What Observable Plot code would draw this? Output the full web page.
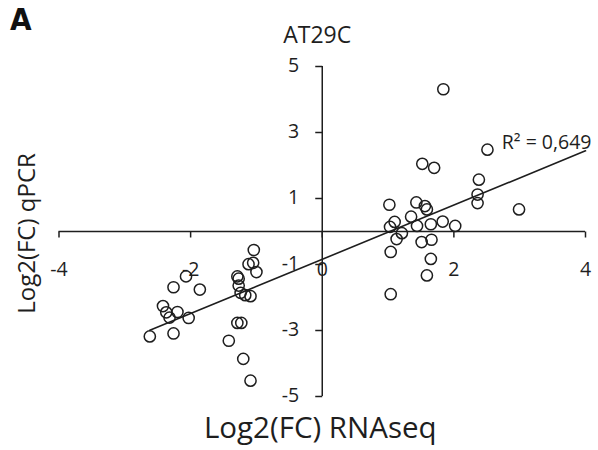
<!DOCTYPE html>
<html>
<head>
<meta charset="utf-8">
<script src="https://cdn.jsdelivr.net/npm/d3@7"></script>
<script src="https://cdn.jsdelivr.net/npm/@observablehq/plot@0.6"></script>
<style>
  html, body { margin: 0; padding: 0; background: #fff; }
</style>
</head>
<body>
<div id="chart"></div>
<script>
// ---- Data ----
const rnaseq = [
  -2.62, -2.26, -2.42, -2.37, -2.20, -2.32, -2.03, -2.26, -2.07, -1.86,
  -1.04, -1.12, -1.05, -1.00, -1.29, -1.27, -1.27, -1.24, -1.17, -1.09, -1.29, -1.23, -1.42, -1.20, -1.09,
  1.84, 2.51, 1.52, 1.70, 2.38, 2.36, 2.36, 2.99, 1.02, 1.43, 1.56, 1.59, 1.35, 1.10,
  1.03, 1.21, 1.13, 1.44, 1.65, 1.83, 2.02, 1.51, 1.66, 1.04, 1.65, 1.59, 1.04
];
const qpcr = [
  -3.18, -3.09, -2.26, -2.45, -2.44, -2.61, -2.62, -1.69, -1.36, -1.76,
  -0.56, -0.99, -0.95, -1.23, -1.36, -1.43, -1.64, -1.86, -1.93, -1.96, -2.77, -2.77, -3.31, -3.86, -4.52,
  4.31, 2.48, 2.05, 1.93, 1.57, 1.12, 0.86, 0.67, 0.81, 0.88, 0.77, 0.67, 0.45, 0.29,
  0.14, -0.05, -0.23, 0.17, 0.22, 0.30, 0.17, -0.32, -0.25, -0.62, -0.83, -1.33, -1.90
];
const xTicks = [-4, -2, 0, 2, 4];
const xTickLabels = ["-4", "-2", "0", "2", "4"];
const yTicks = [5, 3, 1, -1, -3, -5];
const yTickLabels = ["5", "3", "1", "-1", "-3", "-5"];
const trendEndX = 4;
const panelLabel = "A";
const titleText = "AT29C";
const xLabel = "Log2(FC) RNAseq";
const yLabel = "Log2(FC) qPCR";
const r2Label = "R\u00B2 = 0,649";

// ---- Derived ----
const points = rnaseq.map((x, i) => ({x, y: qpcr[i]}));
const mx = d3.mean(rnaseq), my = d3.mean(qpcr);
const slope = d3.sum(points, p => (p.x - mx) * (p.y - my)) / d3.sum(points, p => (p.x - mx) ** 2);
const intercept = my - slope * mx;
const trend = [d3.min(rnaseq), trendEndX].map(x => ({x, y: intercept + slope * x}));

const ink = "#1e1e1e";
const tickDown = {draw(ctx) { ctx.moveTo(0, 0); ctx.lineTo(0, 6); }};
const tickLeft = {draw(ctx) { ctx.moveTo(0, 0); ctx.lineTo(-7, 0); }};

const chart = Plot.plot({
  width: 598,
  height: 450,
  marginLeft: 58.5,
  marginRight: 13,
  marginTop: 66,
  marginBottom: 54,
  x: {domain: [-4, 4], axis: null},
  y: {domain: [-5, 5], axis: null},
  style: {fontFamily: "'Open Sans', sans-serif", color: ink, background: "#fff", overflow: "visible"},
  marks: [
    Plot.ruleY([0], {x1: -4, x2: 4, stroke: ink, strokeWidth: 1.5}),
    Plot.ruleX([0], {y1: -5, y2: 5, stroke: ink, strokeWidth: 1.5}),
    Plot.dot(xTicks, {x: d => d, y: 0, symbol: tickDown, stroke: ink, fill: "none", strokeWidth: 1.5}),
    Plot.dot(yTicks, {x: 0, y: d => d, symbol: tickLeft, stroke: ink, fill: "none", strokeWidth: 1.5}),
    Plot.text(xTicks, {x: d => d, y: 0, text: (d, i) => xTickLabels[i], dy: 38, fontSize: 19.5, fill: ink}),
    Plot.text(yTicks, {x: 0, y: d => d, text: (d, i) => yTickLabels[i], textAnchor: "end", dx: -23, dy: -1, fontSize: 19.5, fill: ink}),
    Plot.line(trend, {x: "x", y: "y", stroke: ink, strokeWidth: 1.6}),
    Plot.dot(points, {x: "x", y: "y", r: 5.6, stroke: ink, strokeWidth: 1.5, fill: "none"}),
    Plot.text([r2Label], {frameAnchor: "top-right", textAnchor: "end", lineAnchor: "middle", dx: 6, dy: 76, fontSize: 19.5, fill: ink}),
    Plot.text([xLabel], {frameAnchor: "bottom", textAnchor: "middle", lineAnchor: "middle", dx: -2, dy: 32.5, fontSize: 29.5, fill: ink}),
    Plot.text([yLabel], {frameAnchor: "left", textAnchor: "middle", lineAnchor: "middle", rotate: -90, dx: -31.5, dy: 2, fontSize: 24, fill: ink}),
    Plot.text([titleText], {frameAnchor: "top", textAnchor: "middle", lineAnchor: "middle", dx: -5, dy: -31, fontSize: 23, fill: ink}),
    Plot.text([panelLabel], {frameAnchor: "top-left", textAnchor: "start", lineAnchor: "middle", dx: -49, dy: -46, fontSize: 31, fontWeight: "bold",
      fontFamily: "'Liberation Sans Narrow', 'DejaVu Sans Condensed', 'Open Sans', sans-serif", fill: "#111"})
  ]
});
document.getElementById("chart").appendChild(chart);
</script>
</body>
</html>
